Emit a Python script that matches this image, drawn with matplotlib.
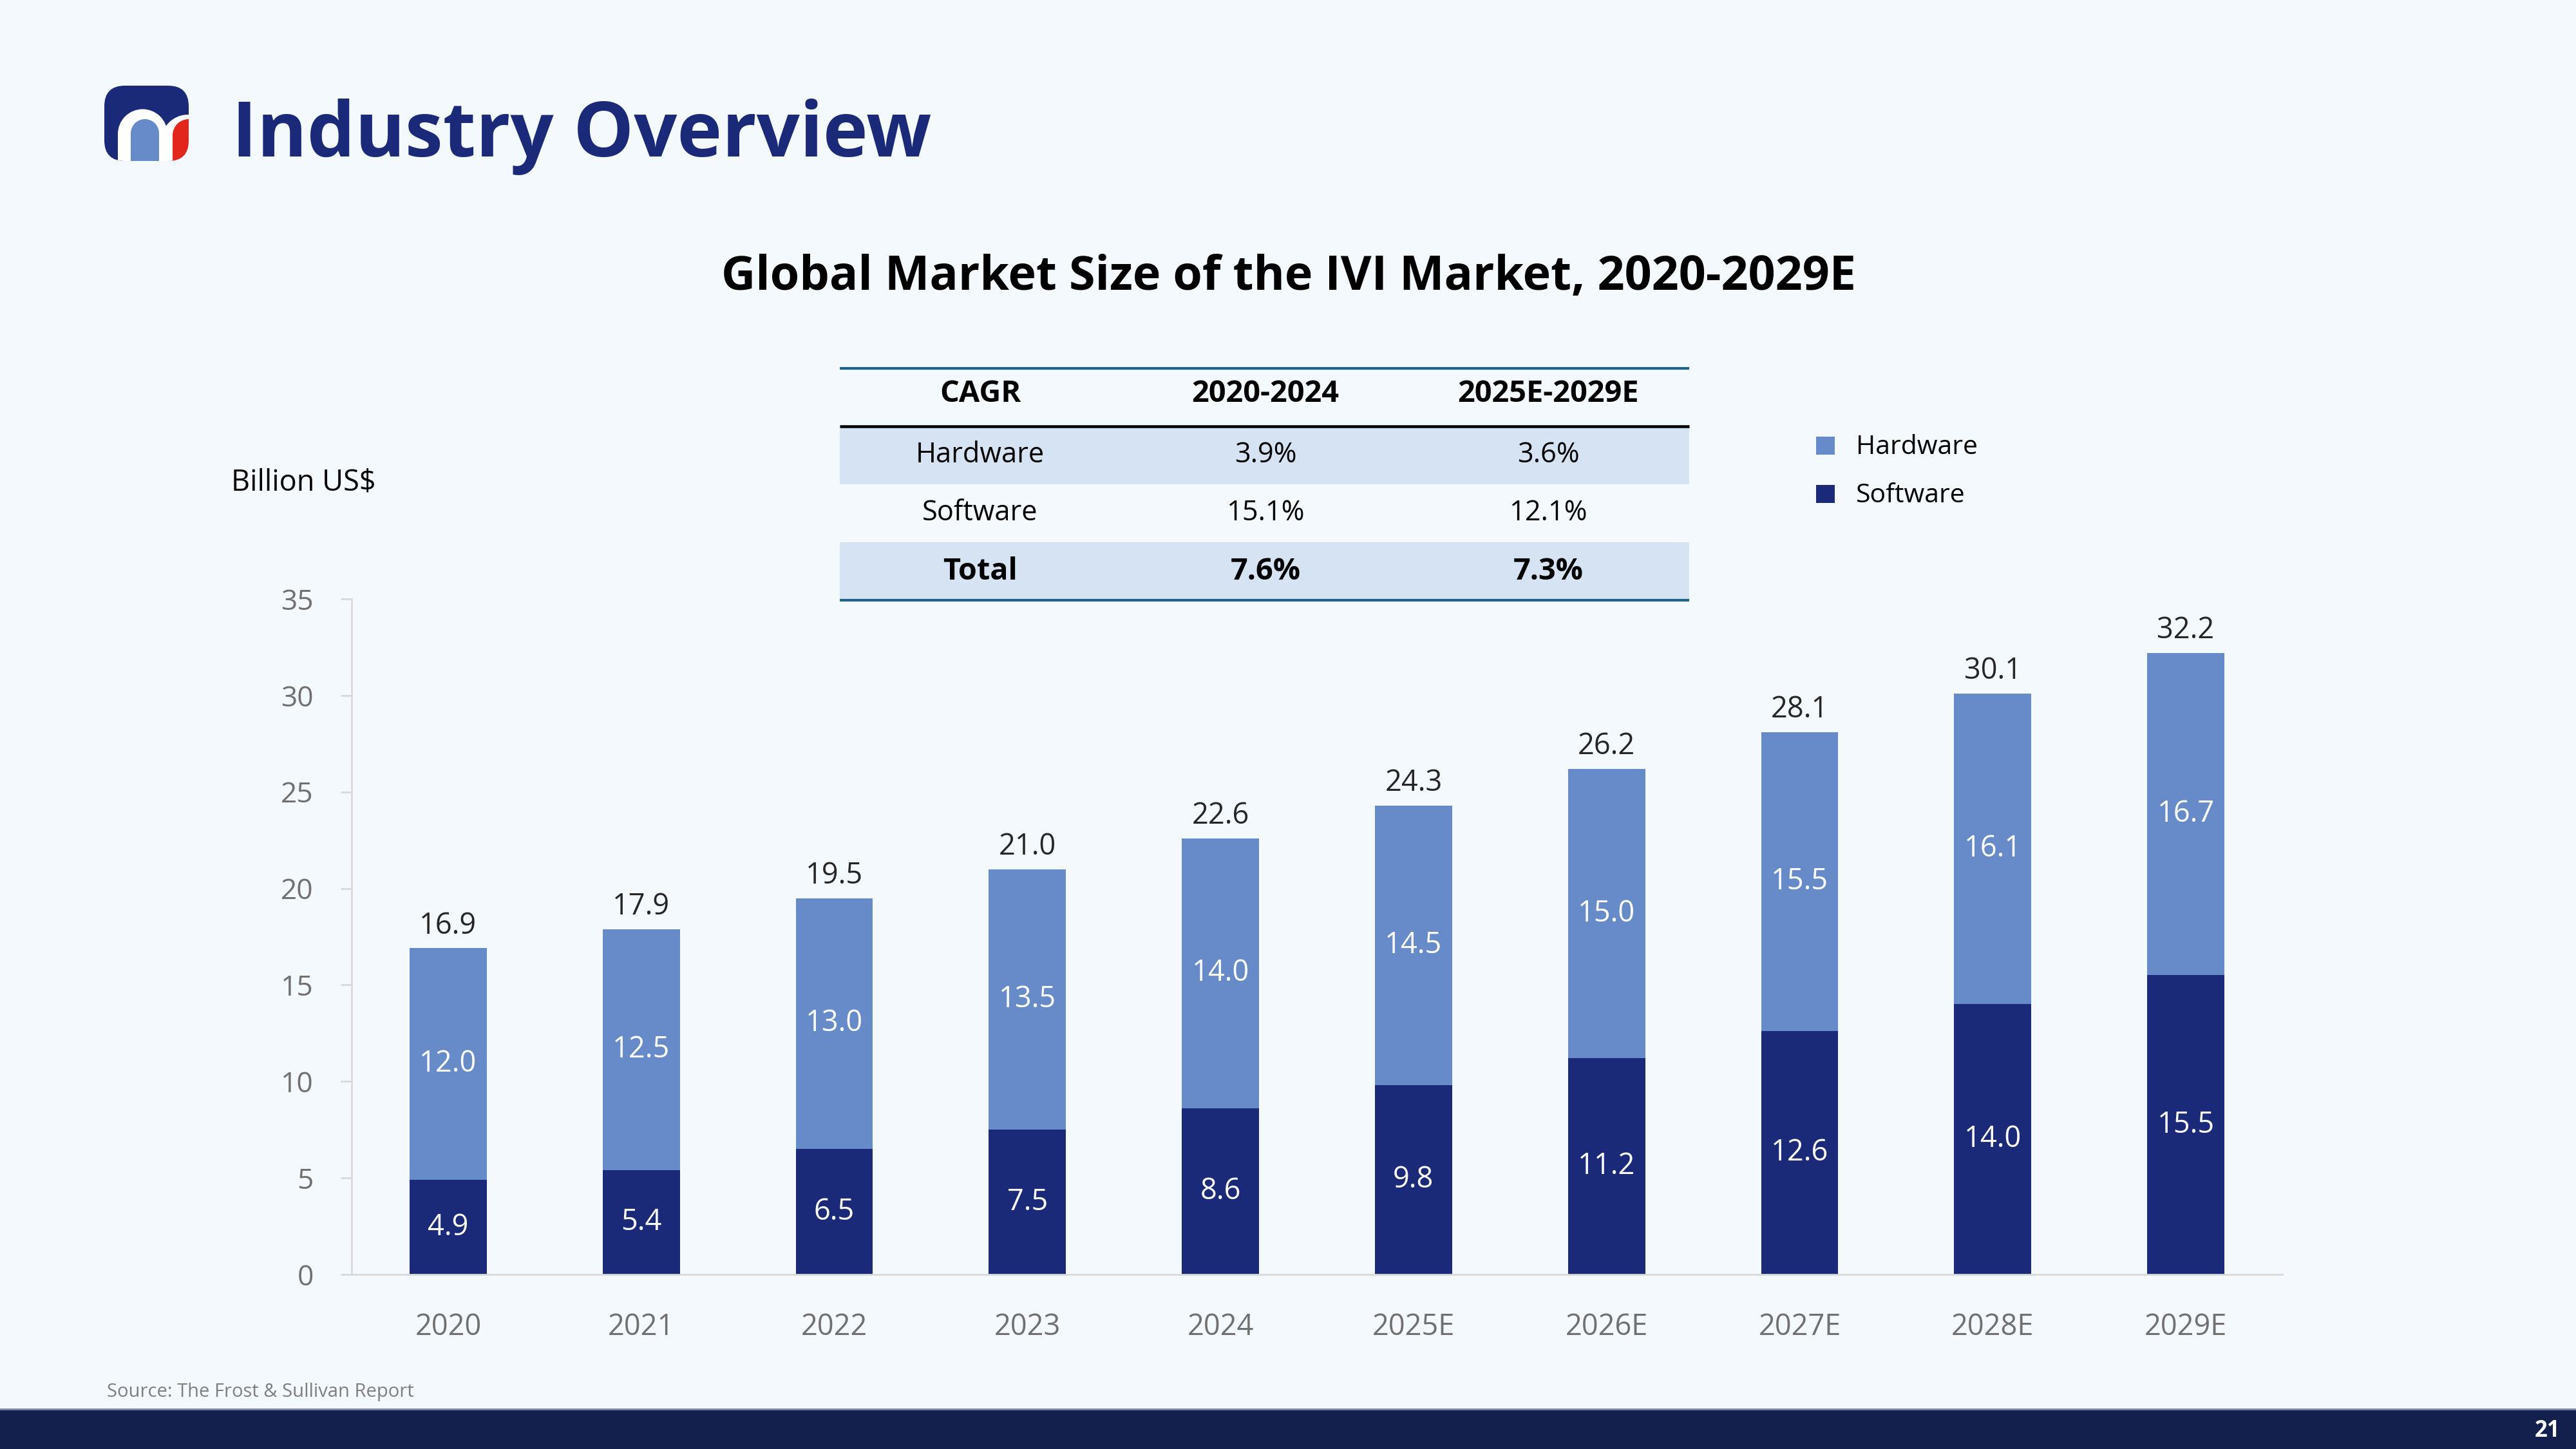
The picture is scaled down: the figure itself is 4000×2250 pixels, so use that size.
import numpy as np
import matplotlib
matplotlib.use("Agg")
import matplotlib.pyplot as plt
from matplotlib.patches import Rectangle, FancyBboxPatch, Wedge

plt.rcParams['font.family'] = ['Open Sans', 'DejaVu Sans']

# data
years = ['2020', '2021', '2022', '2023', '2024', '2025E', '2026E', '2027E', '2028E', '2029E']
software = [4.9, 5.4, 6.5, 7.5, 8.6, 9.8, 11.2, 12.6, 14.0, 15.5]
hardware = [12.0, 12.5, 13.0, 13.5, 14.0, 14.5, 15.0, 15.5, 16.1, 16.7]
totals = [16.9, 17.9, 19.5, 21.0, 22.6, 24.3, 26.2, 28.1, 30.1, 32.2]

cagr_cols = ['CAGR', '2020-2024', '2025E-2029E']
cagr_rows = ['Hardware', 'Software', 'Total']
cagr_hist = ['3.9%', '15.1%', '7.6%']
cagr_fcst = ['3.6%', '12.1%', '7.3%']

# colours
BG = '#F4F9FE'
NAVY = '#1B2A78'
HW = '#678BC8'
SW = '#1B2A78'
ROW = '#D6E3F3'
RULE = '#1F6487'

W, H = 4000, 2250
fig = plt.figure(figsize=(16, 9), dpi=250, facecolor=BG)

# overlay in pixel coordinates (y down)
bg = fig.add_axes([0, 0, 1, 1])
bg.set_xlim(0, W)
bg.set_ylim(H, 0)
bg.axis('off')
bg.set_facecolor(BG)

# logo
shell = FancyBboxPatch((162, 133), 131, 117, boxstyle='round,pad=0,rounding_size=32',
                       fc=NAVY, ec='none')
bg.add_patch(shell)
parts = [
    Rectangle((183, 208), 77, 45, fc='white', ec='none'),
    Wedge((221.5, 208), 38.5, 180, 360, fc='white', ec='none'),
    Rectangle((250, 220), 60, 33, fc='white', ec='none'),
    Wedge((292, 220), 42, 180, 360, fc='white', ec='none'),
    Rectangle((203, 207), 44, 46, fc=HW, ec='none'),
    Wedge((225, 207), 22, 180, 360, fc=HW, ec='none'),
    Rectangle((268, 210), 50, 43, fc='#E3261B', ec='none'),
    Wedge((293, 210), 25, 180, 360, fc='#E3261B', ec='none'),
]
for p in parts:
    bg.add_patch(p)
    p.set_clip_path(shell)

bg.text(360, 243, 'Industry Overview', fontsize=34, fontweight='bold', color=NAVY,
        ha='left', va='baseline')

# chart title
bg.text(2001, 450, 'Global Market Size of the IVI Market, 2020-2029E', fontsize=21.2,
        fontweight='bold', color='black', ha='center', va='baseline')

bg.text(359, 761, 'Billion US$', fontsize=13, color='black', ha='left', va='baseline')

# CAGR table
tx0, tx1 = 1304, 2623
col_x = [1522, 1965, 2404]
row_top = [662, 752, 842]
row_h = 90
bg.add_patch(Rectangle((tx0, row_top[0]), tx1 - tx0, row_h, fc=ROW, ec='none'))
bg.add_patch(Rectangle((tx0, row_top[2]), tx1 - tx0, row_h, fc=ROW, ec='none'))
bg.plot([tx0, tx1], [572, 572], color=RULE, lw=1.2, solid_capstyle='butt')
bg.plot([tx0, tx1], [662, 662], color='black', lw=1.3, solid_capstyle='butt')
bg.plot([tx0, tx1], [932, 932], color=RULE, lw=1.2, solid_capstyle='butt')
for x, c in zip(col_x, cagr_cols):
    bg.text(x, 612, c, fontsize=13.5, fontweight='bold', ha='center', va='center')
for i, name in enumerate(cagr_rows):
    y = row_top[i] + row_h / 2
    wt = 'bold' if name == 'Total' else 'normal'
    fs = 13.5 if name == 'Total' else 12.5
    bg.text(col_x[0], y, name, fontsize=fs, fontweight=wt, ha='center', va='center')
    bg.text(col_x[1], y, cagr_hist[i], fontsize=fs, fontweight=wt, ha='center', va='center')
    bg.text(col_x[2], y, cagr_fcst[i], fontsize=fs, fontweight=wt, ha='center', va='center')

# legend
for y, lab, col in [(692, 'Hardware', HW), (767, 'Software', SW)]:
    bg.add_patch(Rectangle((2820, y - 14), 29, 28, fc=col, ec='none'))
    bg.text(2882, y + 3, lab, fontsize=11.8, ha='left', va='center', color='black')

# footer
bg.add_patch(Rectangle((0, 2188), W, 62, fc='#13204D', ec='none'))
bg.plot([0, W], [2188, 2188], color='#7A88A3', lw=0.8)
bg.text(3975, 2222, '21', fontsize=10, fontweight='bold', color='white', ha='right', va='center')
bg.text(166, 2162, 'Source: The Frost & Sullivan Report', fontsize=8.4, color='#7F7F7F',
        ha='left', va='center')

# bar chart
ax = fig.add_axes([546 / W, 1 - 1979 / H, (3544 - 546) / W, (1979 - 930) / H])
ax.set_facecolor('none')
x = np.arange(len(years))
ax.bar(x, software, width=0.4, color=SW, zorder=2)
ax.bar(x, hardware, width=0.4, bottom=software, color=HW, zorder=2)

for i in range(len(years)):
    ax.text(x[i], software[i] / 2, f'{software[i]:.1f}', color='white', fontsize=13,
            ha='center', va='center')
    ax.text(x[i], software[i] + hardware[i] / 2, f'{hardware[i]:.1f}', color='white',
            fontsize=13, ha='center', va='center')
    ax.annotate(f'{totals[i]:.1f}', (x[i], totals[i]), xytext=(0, 10),
                textcoords='offset points', ha='center', va='center',
                fontsize=13, color='#262626')

ax.set_xlim(-0.5, 9.5)
ax.set_ylim(0, 35)
ax.set_yticks(range(0, 36, 5))
ax.set_xticks(x)
ax.set_xticklabels(years)
for s in ['top', 'right']:
    ax.spines[s].set_visible(False)
for s in ['left', 'bottom']:
    ax.spines[s].set_color('#D9D9D9')
    ax.spines[s].set_linewidth(0.8)
ax.tick_params(axis='y', length=5, width=0.8, color='#D9D9D9', labelcolor='#707070',
               labelsize=12.8, pad=12)
ax.tick_params(axis='x', length=0, labelcolor='#707070', labelsize=13, pad=17)

fig.savefig('out.png', dpi=250, facecolor=BG)
